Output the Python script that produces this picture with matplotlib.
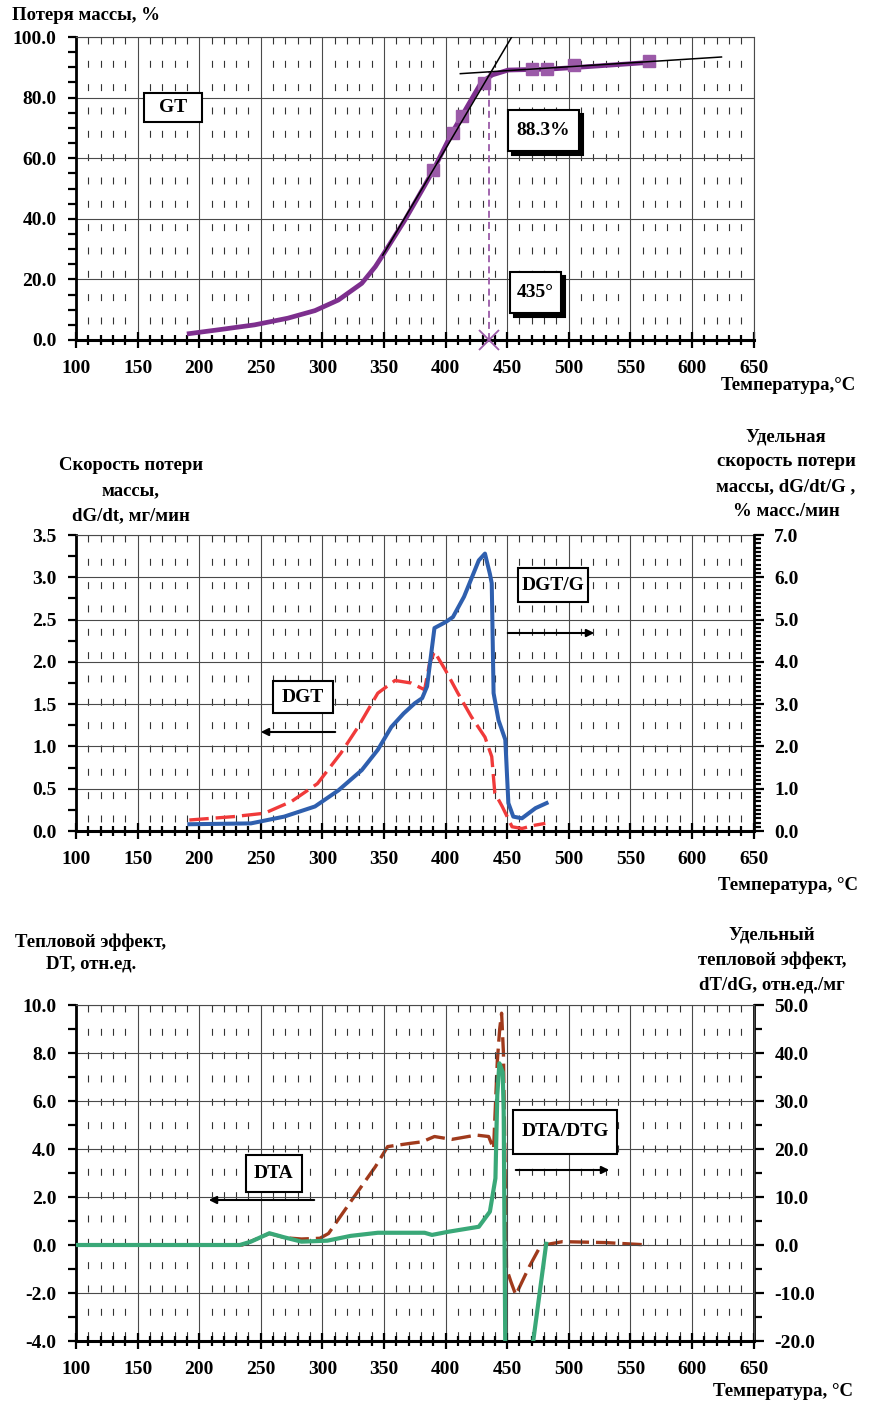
import matplotlib
matplotlib.use("Agg")
import matplotlib.pyplot as plt
from matplotlib.patches import Rectangle
from matplotlib.ticker import MultipleLocator, FormatStrFormatter

plt.rcParams["font.family"] = ["Liberation Serif", "DejaVu Serif"]
plt.rcParams["font.weight"] = "bold"
plt.rcParams["lines.scale_dashes"] = False

# ── Data ────────────────────────────────────────────────────────────────────
# GT: mass loss curve, %
gt_temp = [190, 218, 245, 272, 294, 313, 332, 343, 350, 367, 381, 390, 405, 413,
           429, 438, 451, 484, 504, 565]
gt_loss = [2.0, 3.5, 5.0, 7.2, 9.7, 13.2, 18.7, 24.2, 28.6, 39.6, 49.5, 56.0, 68.2,
           73.8, 85.0, 87.5, 89.1, 89.4, 89.9, 91.6]
gt_mark_temp = [390, 406, 413, 431, 470, 482, 504, 565]
gt_mark_loss = [56.2, 68.3, 73.8, 84.9, 89.6, 89.6, 90.9, 92.0]

# tangents used for the onset construction
steep_temp = [349, 454]
steep_loss = [28.0, 100.2]
flat_temp = [412, 624]
flat_loss = [87.9, 93.4]
onset_temp = 435
onset_loss = 88.3

# DGT, mg/min (left axis)
dgt_temp = [192, 228, 253, 275, 296, 315, 329, 345, 359, 372, 383, 387, 391, 400,
            410, 421, 432, 437.5, 440, 446, 454, 462, 473, 481]
dgt_val = [0.13, 0.17, 0.21, 0.35, 0.56, 0.92, 1.23, 1.63, 1.78, 1.75, 1.67, 1.98,
           2.12, 1.90, 1.63, 1.35, 1.11, 0.88, 0.45, 0.29, 0.05, 0.03, 0.07, 0.09]

# DGT/G, % mass/min (right axis)
dgtg_temp = [192, 242, 269, 294, 313, 332, 345, 356, 366, 375, 381, 385, 387, 391,
             400, 406, 415, 427, 432, 436, 437.5, 439, 443, 448.5, 451, 455, 462,
             473, 482]
dgtg_val = [0.16, 0.18, 0.34, 0.58, 0.96, 1.44, 1.92, 2.46, 2.78, 3.02, 3.14, 3.42,
            3.88, 4.80, 4.94, 5.06, 5.54, 6.40, 6.56, 6.08, 5.86, 3.26, 2.62, 2.16,
            0.66, 0.34, 0.30, 0.54, 0.66]

# DTA, rel. units (left axis)
dta_temp = [100, 233, 242, 257, 269, 283, 304, 323, 345, 383, 389, 402, 427, 436,
            440.5, 442, 443.7, 446.4, 447.2, 448.5, 450, 466, 481.7]
dta_val = [0, 0, 0.14, 0.49, 0.32, 0.14, 0.18, 0.38, 0.51, 0.51, 0.42, 0.55, 0.76,
           1.39, 2.78, 6.25, 7.57, 7.2, 5.55, -4.4, -6.5, -6.0, 0.05]

# DTA/DTG, rel. units/mg (right axis)
dtg_temp = [190, 235, 257, 270, 283, 298, 305, 324, 343, 353, 372, 381, 391, 405,
            425, 435, 439, 442, 444, 445.5, 447, 449.5, 453, 457, 468, 476, 482,
            495, 530, 565]
dtg_val = [0, 0, 2.4, 1.5, 1.25, 1.4, 2.4, 9.4, 16.3, 20.5, 21.2, 21.5, 22.6, 22.0,
           22.9, 22.6, 20.0, 38.2, 45.1, 48.3, 40.0, -4.9, -7.6, -10.4, -4.5, -0.7,
           0.1, 0.7, 0.5, 0.0]

temp_ticks = list(range(100, 651, 50))

# ── Figure ──────────────────────────────────────────────────────────────────
W, H = 869, 1404
fig = plt.figure(figsize=(W / 100, H / 100), dpi=100)

PURPLE = "#7d2f8e"
PURPLE_LT = "#9b5aa8"
BLUE = "#2f5fae"
RED = "#f03a3a"
GREEN = "#3aa878"
BROWN = "#a03a1c"
GRID = "#4a4a4a"
LONG_DASH = (14, 5)


def px_axes(left, top, right, bottom):
    return fig.add_axes([left / W, 1 - bottom / H, (right - left) / W, (bottom - top) / H])


def style_axes(ax, ylim, ymajor, yminor, fmt):
    ax.set_xlim(100, 650)
    ax.set_ylim(*ylim)
    ax.xaxis.set_major_locator(MultipleLocator(50))
    ax.xaxis.set_minor_locator(MultipleLocator(10))
    ax.yaxis.set_major_locator(MultipleLocator(ymajor))
    ax.yaxis.set_minor_locator(MultipleLocator(yminor))
    ax.yaxis.set_major_formatter(FormatStrFormatter(fmt))
    ax.grid(which="major", color=GRID, lw=0.8)
    ax.set_axisbelow(True)
    # dashed minor verticals, drawn from the top edge down
    for x in range(110, 650, 10):
        if x % 50:
            ax.plot([x, x], [1, 0], transform=ax.get_xaxis_transform(),
                    color="#333333", lw=0.8, dashes=(5, 11.8), zorder=0.5)
    for side in ("top", "right"):
        ax.spines[side].set_color(GRID)
        ax.spines[side].set_linewidth(0.8)
    ax.spines["left"].set_linewidth(2.0)
    ax.spines["bottom"].set_linewidth(2.2)
    ax.tick_params(axis="x", which="major", direction="inout", length=11, width=1.6,
                   labelsize=14, pad=9)
    ax.tick_params(axis="x", which="minor", direction="inout", length=7, width=1.6)
    ax.tick_params(axis="y", which="both", direction="out", length=6, width=1.6,
                   labelsize=14, pad=8)
    for lab in ax.get_xticklabels() + ax.get_yticklabels():
        lab.set_fontweight("bold")


def style_right(axr, ylim, ymajor, yminor, minor_len):
    axr.set_ylim(*ylim)
    axr.yaxis.set_major_locator(MultipleLocator(ymajor))
    axr.yaxis.set_minor_locator(MultipleLocator(yminor))
    axr.yaxis.set_major_formatter(FormatStrFormatter("%.1f"))
    axr.spines["right"].set_linewidth(2.0)
    axr.spines["right"].set_color("black")
    for side in ("top", "left", "bottom"):
        axr.spines[side].set_visible(False)
    axr.tick_params(axis="y", which="major", direction="out", length=7, width=1.6,
                    labelsize=14, pad=8)
    axr.tick_params(axis="y", which="minor", direction="out", length=minor_len, width=1.6)


def px_box(x0, y0, x1, y1, text, shadow=0, size=14):
    if shadow:
        fig.patches.append(Rectangle((x0 / W + shadow / W, 1 - (y1 + shadow) / H),
                                     (x1 - x0) / W, (y1 - y0) / H,
                                     transform=fig.transFigure, fc="black", ec="black",
                                     lw=1.5, zorder=5))
    fig.patches.append(Rectangle((x0 / W, 1 - y1 / H), (x1 - x0) / W, (y1 - y0) / H,
                                 transform=fig.transFigure, fc="white", ec="black",
                                 lw=1.5, zorder=6))
    fig.text((x0 + x1) / 2 / W, 1 - (y0 + y1) / 2 / H, text, ha="center", va="center",
             fontsize=size, fontweight="bold", zorder=7)


def px_arrow(x0, x1, y):
    fig.add_artist(matplotlib.patches.FancyArrowPatch(
        (x0 / W, 1 - y / H), (x1 / W, 1 - y / H), transform=fig.transFigure,
        arrowstyle="-|>", mutation_scale=11, lw=1.5, color="black", zorder=7))


def px_text(x, y, text, ha="center", size=13.5):
    fig.text(x / W, 1 - y / H, text, ha=ha, va="center", fontsize=size,
             fontweight="bold")


# ── Panel 1: GT ─────────────────────────────────────────────────────────────
ax1 = px_axes(76, 37, 753.5, 340)
style_axes(ax1, (0, 100), 20, 5, "%.1f")
ax1.set_xticks(temp_ticks)
ax1.plot(gt_temp, gt_loss, color=PURPLE, lw=3.4, solid_capstyle="butt", zorder=3)
ax1.plot(gt_mark_temp, gt_mark_loss, ls="none", marker="s", ms=8.5,
         color=PURPLE_LT, zorder=4)
ax1.plot(steep_temp, steep_loss, color="black", lw=1.1, zorder=5)
ax1.plot(flat_temp, flat_loss, color="black", lw=1.1, zorder=5)
ax1.plot([onset_temp, onset_temp], [0, onset_loss], color=PURPLE_LT, lw=1.3,
         dashes=(5, 3), zorder=4)
ax1.plot([onset_temp], [0], marker="x", ms=15, mew=1.3, color=PURPLE_LT,
         clip_on=False, zorder=6)
px_text(12, 15, "Потеря массы, %", ha="left")
px_text(856, 385, "Температура,°С", ha="right")
px_box(144, 93, 202, 122, "GT")
px_box(508, 110, 579, 151, f"{onset_loss:.1f}%", shadow=4)
px_box(510, 272, 561, 313, f"{onset_temp}°", shadow=4)

# ── Panel 2: DGT and DGT/G ──────────────────────────────────────────────────
ax2 = px_axes(76, 535, 753.5, 831)
style_axes(ax2, (0, 3.5), 0.5, 0.25, "%.1f")
ax2.set_xticks(temp_ticks)
ax2r = ax2.twinx()
style_right(ax2r, (0, 7), 1, 0.1, 5)
ax2.plot(dgt_temp, dgt_val, color=RED, lw=2.4, dashes=LONG_DASH, zorder=3)
ax2r.plot(dgtg_temp, dgtg_val, color=BLUE, lw=2.9, zorder=4)
for lab in ax2r.get_yticklabels():
    lab.set_fontweight("bold")
for i, line in enumerate(["Скорость потери", "массы,", "dG/dt, мг/мин"]):
    px_text(131, 466 + 25 * i, line)
for i, line in enumerate(["Удельная", "скорость потери", "массы, dG/dt/G ,",
                          "% масс./мин"]):
    px_text(786, 437 + 25 * i, line)
px_text(858, 885, "Температура, °С", ha="right")
px_box(273, 681, 333, 713, "DGT")
px_box(518, 568, 588, 602, "DGT/G")
px_arrow(338, 258, 732)
px_arrow(505, 597, 633)

# ── Panel 3: DTA and DTA/DTG ────────────────────────────────────────────────
ax3 = px_axes(76, 1005, 753.5, 1341)
style_axes(ax3, (-4, 10), 2, 1, "%.1f")
ax3.set_xticks(temp_ticks)
ax3r = ax3.twinx()
style_right(ax3r, (-20, 50), 10, 5, 6)
ax3r.plot(dtg_temp, dtg_val, color=BROWN, lw=2.4, dashes=LONG_DASH, zorder=3)
ax3.plot(dta_temp, dta_val, color=GREEN, lw=3.0, zorder=4)
ax3.set_zorder(ax3r.get_zorder() + 1)
ax3.patch.set_visible(False)
for lab in ax3r.get_yticklabels():
    lab.set_fontweight("bold")
for i, line in enumerate(["Тепловой эффект,", "DT, отн.ед."]):
    px_text(91, 942 + 22 * i, line)
for i, line in enumerate(["Удельный", "тепловой эффект,", "dT/dG, отн.ед./мг"]):
    px_text(772, 935 + 25 * i, line)
px_text(853, 1391, "Температура, °С", ha="right")
px_box(246, 1155, 302, 1192, "DTA")
px_box(513, 1110, 617, 1154, "DTA/DTG")
px_arrow(317, 206, 1200)
px_arrow(513, 612, 1170)

fig.savefig("out.png", dpi=100)
